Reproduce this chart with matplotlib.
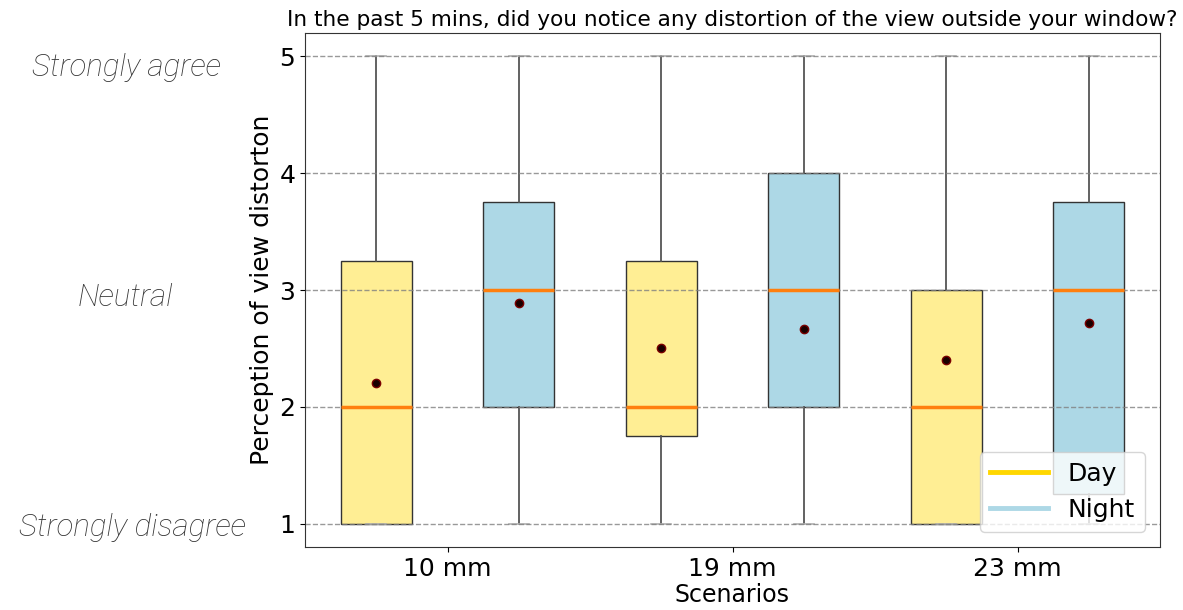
import matplotlib
matplotlib.use("Agg")
import matplotlib.pyplot as plt
from matplotlib.colors import to_rgba
from matplotlib.lines import Line2D

# Summary statistics of the 5-point Likert responses per scenario
scenarios = ["10 mm", "19 mm", "23 mm"]
groups = ["Day", "Night"]

day_q1 = [1.0, 1.75, 1.0]
day_median = [2.0, 2.0, 2.0]
day_q3 = [3.25, 3.25, 3.0]
day_whislo = [1.0, 1.0, 1.0]
day_whishi = [5.0, 5.0, 5.0]
day_mean = [2.2, 2.5, 2.4]

night_q1 = [2.0, 2.0, 1.25]
night_median = [3.0, 3.0, 3.0]
night_q3 = [3.75, 4.0, 3.75]
night_whislo = [1.0, 1.0, 1.0]
night_whishi = [5.0, 5.0, 5.0]
night_mean = [2.89, 2.67, 2.72]

likert_labels = ["Strongly agree", "Neutral", "Strongly disagree"]
likert_levels = [5, 3, 1]

day_face = to_rgba("gold", 0.42)
night_face = "lightblue"


def make_stats(q1, med, q3, lo, hi, mean):
    return [dict(q1=a, med=b, q3=c, whislo=d, whishi=e, mean=f, fliers=[])
            for a, b, c, d, e, f in zip(q1, med, q3, lo, hi, mean)]


fig = plt.figure(figsize=(11.83, 6.10), dpi=100)
ax = fig.add_axes([305 / 1183, 1 - 547 / 610, 855 / 1183, 514 / 610])

centers = list(range(1, len(scenarios) + 1))
offset = 0.25
width = 0.25

common = dict(
    widths=width, patch_artist=True, showmeans=True, showfliers=False,
    capwidths=0.07,
    medianprops=dict(color="#ff7f0e", linewidth=2.5, zorder=4),
    whiskerprops=dict(color="#555555", linewidth=1.3),
    capprops=dict(color="#b0b0b0", linewidth=1.2),
    meanprops=dict(marker="o", markerfacecolor="#1a0000",
                   markeredgecolor="#7a0000", markersize=6, zorder=5),
)

bd = ax.bxp(make_stats(day_q1, day_median, day_q3, day_whislo, day_whishi, day_mean),
            positions=[c - offset for c in centers], **common)
bn = ax.bxp(make_stats(night_q1, night_median, night_q3, night_whislo, night_whishi, night_mean),
            positions=[c + offset for c in centers], **common)

for box in bd["boxes"]:
    box.set_facecolor(day_face)
    box.set_edgecolor("#333333")
    box.set_linewidth(1.0)
for box in bn["boxes"]:
    box.set_facecolor(night_face)
    box.set_edgecolor("#333333")
    box.set_linewidth(1.0)

ax.set_xlim(0.5, len(scenarios) + 0.5)
ax.set_ylim(0.8, 5.2)
ax.set_xticks(centers)
ax.set_xticklabels(scenarios)
ax.set_yticks([1, 2, 3, 4, 5])
ax.tick_params(axis="both", labelsize=18)
ax.grid(axis="y", linestyle="--", color="gray", alpha=0.8, linewidth=1.0, zorder=3)
ax.set_axisbelow(False)
for sp in ax.spines.values():
    sp.set_color("#333333")

ax.set_xlabel("Scenarios", fontsize=17, labelpad=2)
ax.set_ylabel("Perception of view distorton", fontsize=18)
ax.set_title("In the past 5 mins, did you notice any distortion of the view outside your window?",
             fontsize=15.6, pad=5)

handles = [Line2D([0], [0], color="gold", lw=3.5),
           Line2D([0], [0], color="lightblue", lw=3.5)]
ax.legend(handles, groups, loc="lower right", fontsize=18, framealpha=0.8,
          handlelength=2.3, borderaxespad=0.6)

# Likert anchors beside the axis, at fixed figure heights
label_y_px = [68, 298, 527]
label_x_px = [126, 125, 132]
for text, xp, yp in zip(likert_labels, label_x_px, label_y_px):
    fig.text(xp / 1183, 1 - yp / 610, text, ha="center", va="center",
             fontsize=22.5, family="Roboto", style="italic", weight="light",
             color="#333333")

fig.savefig("out.png", dpi=100)
